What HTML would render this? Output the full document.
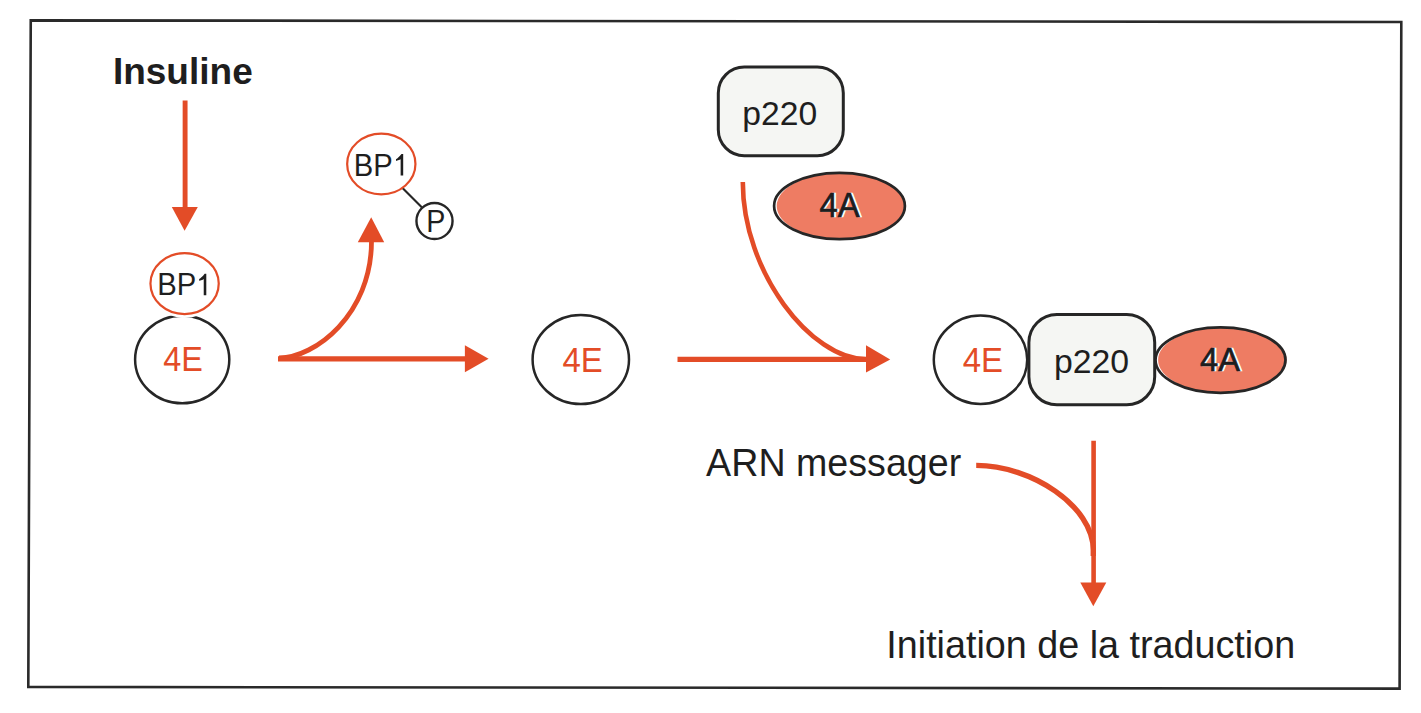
<!DOCTYPE html>
<html><head><meta charset="utf-8"><title>Insuline - initiation de la traduction</title>
<style>
html,body{margin:0;padding:0;background:#fff;}
body{width:1421px;height:713px;overflow:hidden;}
svg{display:block;font-family:"Liberation Sans",sans-serif;}
</style></head>
<body>
<svg width="1421" height="713" viewBox="0 0 1421 713">
<rect width="1421" height="713" fill="#fff"/>
<polygon points="30.75,20.4 1401.3,22.0 1399.6,688.6 28.3,686.9" fill="none" stroke="#2a2a2a" stroke-width="2.6" stroke-linejoin="miter"/>
<text transform="translate(112.89,84.30) scale(0.985,1)" font-size="37.60" font-weight="bold" fill="#1e1e1e" >Insuline</text>
<line x1="185.1" y1="100.5" x2="185.1" y2="208" stroke="#e34c27" stroke-width="4.9"/>
<polygon points="171.8,206.9 197.8,206.9 184.6,230.8" fill="#e34c27"/>
<ellipse cx="182.2" cy="359.5" rx="47.1" ry="43.8" fill="#fff" stroke="#262626" stroke-width="2.5"/>
<ellipse cx="184.6" cy="283.6" rx="34.15" ry="30.45" fill="#fff" stroke="#fff" stroke-width="8"/>
<ellipse cx="184.6" cy="283.6" rx="34.15" ry="30.45" fill="none" stroke="#e34c27" stroke-width="2.2"/>
<text transform="translate(157.36,295.30) scale(0.950,1)" font-size="30.80" font-weight="normal" fill="#1e1e1e" >BP</text>
<polygon points="203.73,295.30 206.30,295.30 206.30,273.80 204.63,273.80 203.11,275.65 200.06,278.57 199.13,278.88 199.13,280.73 200.36,280.42 202.80,279.65 203.73,279.04" fill="#1e1e1e"/>
<text transform="translate(163.35,371.00) scale(0.930,1)" font-size="34.80" font-weight="normal" fill="#e34c27" >4E</text>
<line x1="278" y1="358.8" x2="467" y2="358.8" stroke="#e34c27" stroke-width="5.2"/>
<polygon points="464.9,345.2 464.9,372.3 488.6,358.8" fill="#e34c27"/>
<path d="M279,358 C314.8,357.8 371.5,314.7 371.5,241" fill="none" stroke="#e34c27" stroke-width="4.8"/>
<polygon points="357.8,242.2 384.2,242.2 371.2,217.3" fill="#e34c27"/>
<line x1="401.5" y1="187" x2="422" y2="207.6" stroke="#262626" stroke-width="2.1"/>
<ellipse cx="381.3" cy="164.0" rx="34.15" ry="30.35" fill="#fff" stroke="#e34c27" stroke-width="2.2"/>
<text transform="translate(353.76,175.50) scale(0.950,1)" font-size="30.80" font-weight="normal" fill="#1e1e1e" >BP</text>
<polygon points="400.63,175.50 403.20,175.50 403.20,154.00 401.53,154.00 400.01,155.85 396.96,158.77 396.03,159.08 396.03,160.93 397.26,160.62 399.70,159.85 400.63,159.24" fill="#1e1e1e"/>
<circle cx="434.5" cy="221" r="18.05" fill="#fff" stroke="#262626" stroke-width="2.4"/>
<text transform="translate(426.20,231.90) scale(0.920,1)" font-size="31.20" font-weight="normal" fill="#1e1e1e" >P</text>
<ellipse cx="580.8" cy="359.5" rx="48.2" ry="44.5" fill="#fff" stroke="#262626" stroke-width="2.5"/>
<text transform="translate(562.44,372.00) scale(0.940,1)" font-size="35.00" font-weight="normal" fill="#e34c27" >4E</text>
<line x1="677.5" y1="359.4" x2="867" y2="359.4" stroke="#e34c27" stroke-width="5.2"/>
<polygon points="866,345.2 866,372.6 890.2,359.4" fill="#e34c27"/>
<path d="M742.8,182 C742.8,272.5 811.3,359.2 866,359.2" fill="none" stroke="#e34c27" stroke-width="4.6"/>
<rect x="718.3" y="67.0" width="125" height="88.8" rx="26" ry="26" fill="#f5f6f3" stroke="#262626" stroke-width="3"/>
<text transform="translate(742.31,124.60) scale(1.000,1)" font-size="33.70" font-weight="normal" fill="#1e1e1e" >p220</text>
<ellipse cx="841.3" cy="206.0" rx="64.6" ry="33.2" fill="#ee7c63"/>
<ellipse cx="839.5" cy="206.0" rx="65.4" ry="33.2" fill="none" stroke="#262626" stroke-width="2.7"/>
<text transform="translate(821.44,217.00) scale(0.960,1)" font-size="34.20" font-weight="normal" fill="#fff" stroke="#fff" stroke-width="0.7">4A</text>
<text transform="translate(819.44,217.00) scale(0.960,1)" font-size="34.20" font-weight="normal" fill="#1e1e1e" stroke="#1e1e1e" stroke-width="0.7">4A</text>
<ellipse cx="980.5" cy="359.75" rx="46.7" ry="44.2" fill="#fff" stroke="#262626" stroke-width="2.5"/>
<text transform="translate(962.74,372.00) scale(0.940,1)" font-size="35.00" font-weight="normal" fill="#e34c27" >4E</text>
<ellipse cx="1222.3" cy="360.1" rx="64.2" ry="32.7" fill="#ee7c63"/>
<ellipse cx="1220.5" cy="360.1" rx="65.0" ry="32.7" fill="none" stroke="#262626" stroke-width="2.7"/>
<rect x="1028.9" y="314.5" width="125.8" height="90.3" rx="28" ry="28" fill="#f5f6f3" stroke="#262626" stroke-width="3"/>
<text transform="translate(1053.90,373.20) scale(1.000,1)" font-size="33.80" font-weight="normal" fill="#1e1e1e" >p220</text>
<text transform="translate(1202.05,371.40) scale(0.960,1)" font-size="34.00" font-weight="normal" fill="#fff" stroke="#fff" stroke-width="0.7">4A</text>
<text transform="translate(1200.05,371.40) scale(0.960,1)" font-size="34.00" font-weight="normal" fill="#1e1e1e" stroke="#1e1e1e" stroke-width="0.7">4A</text>
<text transform="translate(706.11,475.90) scale(0.970,1)" font-size="38.80" font-weight="normal" fill="#1e1e1e" >ARN messager</text>
<line x1="1093.6" y1="440.7" x2="1093.6" y2="584" stroke="#e34c27" stroke-width="4.6"/>
<path d="M976.2,465.4 C1030.9,465.4 1093.3,505.8 1093.3,550 L1093.3,556" fill="none" stroke="#e34c27" stroke-width="5.4"/>
<polygon points="1080.3,582.5 1106.3,582.5 1093.3,606.3" fill="#e34c27"/>
<text transform="translate(886.30,658.00) scale(0.975,1)" font-size="38.70" font-weight="normal" fill="#1e1e1e" >Initiation de la traduction</text>
</svg>
</body></html>
